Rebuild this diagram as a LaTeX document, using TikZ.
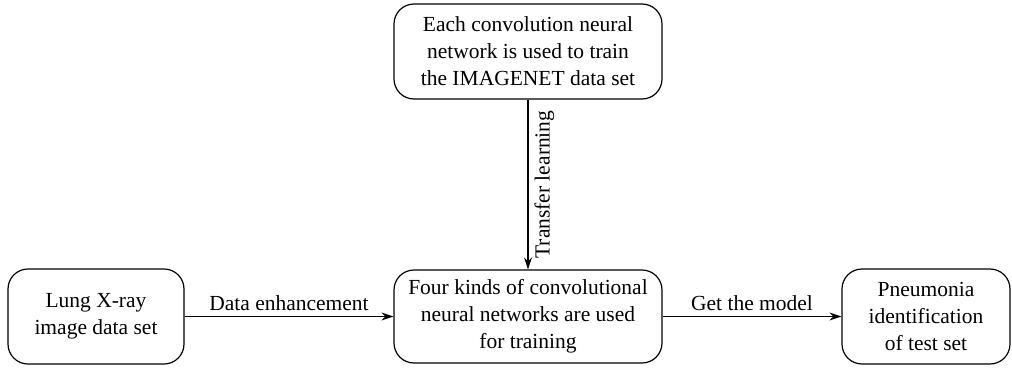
\documentclass[tikz,border=0pt]{standalone}
\usepackage{fontspec}
\setmainfont{Liberation Serif}
\usetikzlibrary{arrows.meta}
\begin{document}
\begin{tikzpicture}[x=1pt,y=1pt,
  box/.style={draw, line width=1.2pt, rounded corners=20pt, align=center, inner sep=0pt},
  conn/.style={line width=1.2pt, -{Stealth[length=12pt,width=8pt]}},
  lbl/.style={inner sep=3pt},
  every node/.style={font=\fontsize{21.5}{27}\selectfont}]
\useasboundingbox (0,0) rectangle (1012,368);
\node[box, minimum width=268pt, minimum height=95pt] (top) at (528,316.5) {Each convolution neural\\network is used to train\\the IMAGENET data set};
\node[box, minimum width=268pt, minimum height=93pt] (mid) at (528,51.5) {Four kinds of convolutional\\neural networks are used\\for training};
\node[box, minimum width=176pt, minimum height=95pt] (left) at (96,51.5) {Lung X-ray\\image data set};
\node[box, minimum width=168pt, minimum height=95pt] (right) at (926,51.5) {Pneumonia\\identification\\of test set};
\draw[conn] (left.east) -- node[lbl, above, yshift=2pt] {Data enhancement} (mid.west);
\draw[conn] (mid.east) -- node[lbl, above, yshift=2pt] {Get the model} (right.west);
\draw[conn] (top.south) -- node[lbl, rotate=90, anchor=north, inner sep=6pt] {Transfer learning} (mid.north);
\end{tikzpicture}
\end{document}
